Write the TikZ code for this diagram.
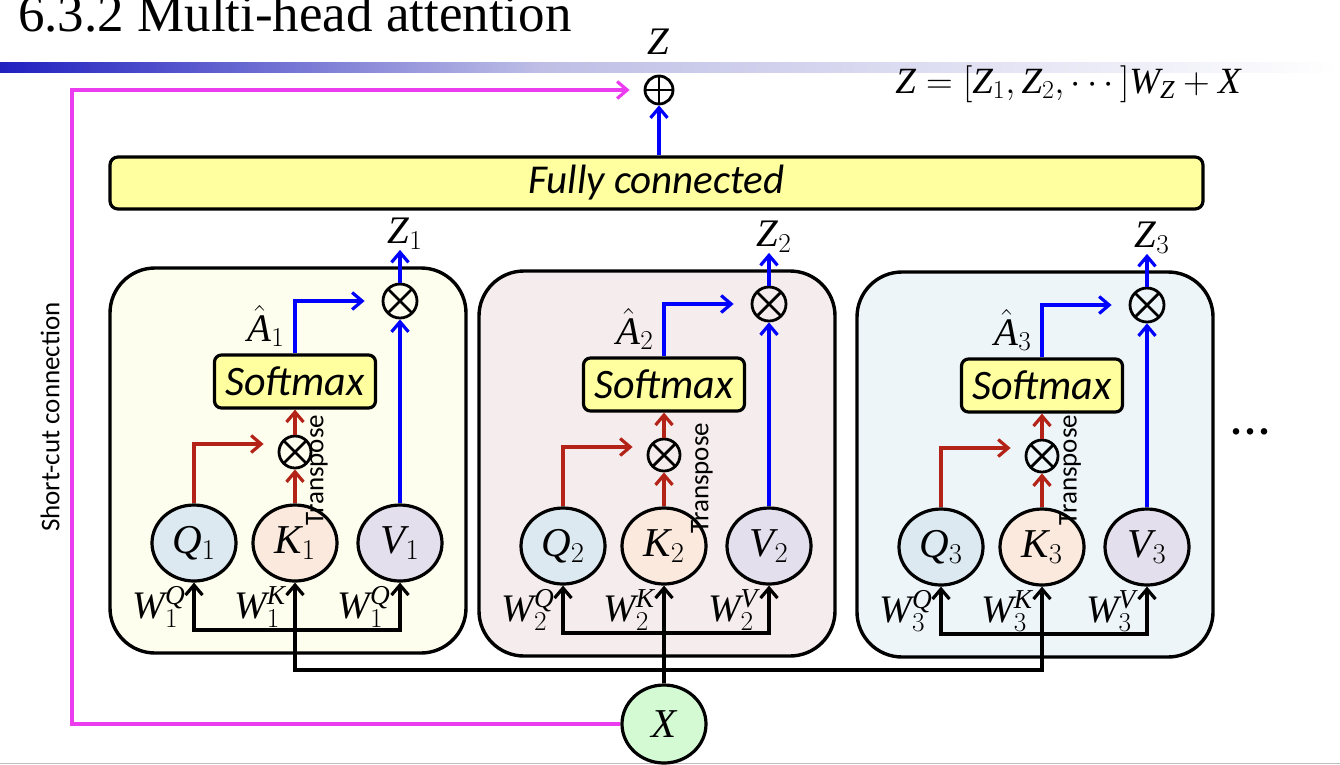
\RequirePackage{fix-cm}
\documentclass[tikz,border=0pt]{standalone}
\usepackage{fontspec}
\setmainfont{Liberation Serif}
\newfontfamily\calib{Carlito}
\usetikzlibrary{arrows.meta,shapes.geometric,calc}
\definecolor{myblue}{RGB}{0,0,255}
\definecolor{myred}{RGB}{180,35,24}
\definecolor{mymag}{RGB}{235,60,240}
\definecolor{fcyellow}{RGB}{255,255,160}
\definecolor{hb1}{RGB}{254,254,238}
\definecolor{hb2}{RGB}{245,236,237}
\definecolor{hb3}{RGB}{238,245,249}
\definecolor{qfill}{RGB}{220,233,241}
\definecolor{kfill}{RGB}{250,233,220}
\definecolor{vfill}{RGB}{228,223,236}
\definecolor{xfill}{RGB}{212,250,212}
\definecolor{barblue}{RGB}{32,32,192}
\definecolor{barmid}{RGB}{190,190,230}
\tikzset{
  tipb/.style={-{Straight Barb[length=10pt,width=17pt]}},
  blu/.style={draw=myblue, line width=3.2pt, tipb},
  redl/.style={draw=myred, line width=3.2pt, tipb},
  blk/.style={draw=black, line width=3.2pt, tipb},
  mag/.style={draw=mymag, line width=3.2pt, tipb},
  headbox/.style={draw, line width=3.4pt, rounded corners=45pt, minimum width=356pt, minimum height=385pt, inner sep=0},
  qkv/.style={ellipse, draw, line width=3.2pt, minimum width=84pt, minimum height=76pt, inner sep=0, font=\fontsize{41}{44}\selectfont},
  otimes/.style={circle, draw, line width=2.8pt, inner sep=0, path picture={\draw[line width=2.8pt] (path picture bounding box.north west) -- (path picture bounding box.south east) (path picture bounding box.north east) -- (path picture bounding box.south west);}},
  oplus/.style={circle, draw, line width=2.8pt, inner sep=0, minimum size=28pt, path picture={\draw[line width=2.8pt] (path picture bounding box.north) -- (path picture bounding box.south) (path picture bounding box.east) -- (path picture bounding box.west);}},
  smbox/.style={draw, fill=fcyellow, line width=3.2pt, rounded corners=7pt, minimum width=161pt, minimum height=53pt, inner sep=0, font=\calib\itshape\fontsize{42}{44}\selectfont},
  fcbox/.style={draw, fill=fcyellow, line width=3.2pt, rounded corners=8pt, minimum width=1093pt, minimum height=52pt, inner sep=0, font=\calib\itshape\fontsize{41}{43}\selectfont},
  zl/.style={inner sep=0, font=\fontsize{39}{42}\selectfont},
  wl/.style={inner sep=0, font=\fontsize{39}{42}\selectfont},
  tp/.style={inner sep=0, rotate=90, font=\calib\fontsize{27}{29}\selectfont},
}
\begin{document}
\begin{tikzpicture}[x=1pt,y=-1pt]
\useasboundingbox (0,0) rectangle (1340,764);
\fill[white] (0,0) rectangle (1340,764);
% title and bar
\node[anchor=base west, inner sep=0, font=\fontsize{53}{56}\selectfont] (title) at (18,31) {6.3.2 Multi-head attention};
\shade[left color=barblue, right color=barmid] (0,62) rectangle (540,72);
\shade[left color=barmid, right color=white] (540,62) rectangle (1340,72);
\draw[black!25, line width=1.2pt] (0,763.4) -- (1340,763.4);
% heads
\foreach \i/\dx/\dy/\v/\tx/\ty in {1/0/0/Q/317/470, 2/369/3/V/333/475, 3/747/4/V/323/466} {
  \begin{scope}[shift={(\dx,\dy)}]
    \node[headbox, fill=hb\i] (box\i) at (288,460.5) {};
    \node[zl] (Zl\i) at (405,234) {$\mathit{Z}_{\i}$};
    \node[otimes, minimum size=34pt] (mt\i) at (400,301) {};
    \node[smbox] (sm\i) at (295,381.5) {Softmax};
    \node[zl] (Ah\i) at (266,326) {$\hat{\mathit{A}}_{\i}$};
    \node[otimes, minimum size=32pt] (ms\i) at (295,452) {};
    \node[qkv, fill=qfill] (Q\i) at (194,543) {$\mathit{Q}_{\i}$};
    \node[qkv, fill=kfill] (K\i) at (295,543) {$\mathit{K}_{\i}$};
    \node[qkv, fill=vfill] (V\i) at (400,543) {$\mathit{V}_{\i}$};
    \node[tp] (tr\i) at (\tx,\ty) {Transpose};
    \node[wl] (wq\i) at (159,607) {$\mathit{W}_{\i}^{\mathit{Q}}$};
    \node[wl] (wk\i) at (260,607) {$\mathit{W}_{\i}^{\mathit{K}}$};
    \node[wl] (wv\i) at (364,607) {$\mathit{W}_{\i}^{\mathit{\v}}$};
    \coordinate (ib\i) at (295,630);
    \draw[blu] (V\i.north) -- (mt\i.south);
    \draw[blu] (mt\i.north) -- (Zl\i.south -| mt\i.north);
    \draw[blu, shorten >=17pt] (sm\i.north) |- (mt\i.west);
    \draw[redl] (K\i.north) -- (ms\i.south);
    \draw[redl] (ms\i.north) -- (sm\i.south);
    \draw[redl, shorten >=14pt] (Q\i.north) |- ($(ms\i.west)+(0,-8)$);
    \draw[blk] (ib\i) -| (Q\i.south);
    \draw[blk] (ib\i) -| (V\i.south);
  \end{scope}
}
% X and wiring
\node[ellipse, draw, line width=3.2pt, fill=xfill, minimum width=84pt, minimum height=78pt, inner sep=0, font=\fontsize{41}{44}\selectfont] (X) at (664,724) {$\mathit{X}$};
\coordinate (bus) at (664,670);
\draw[blk] (X.north) -- (K2.south);
\draw[blk] (bus) -| (K1.south);
\draw[blk] (bus) -| (K3.south);
% top part
\node[fcbox] (fc) at (656.5,183) {Fully connected};
\node[oplus] (plus) at (659,90) {};
\node[zl] (Ztop) at (658,42) {$\mathit{Z}$};
\draw[blu] (fc.north -| plus.south) -- (plus.south);
\coordinate (sc) at (72,90);
\draw[mag, shorten >=14pt] (X.west) -| (sc) -- (plus.west);
\node[tp] (scl) at (50,417) {Short-cut connection};
\node[anchor=base, inner sep=0, font=\bfseries\fontsize{40}{44}\selectfont] (dots) at (1250,434) {.\kern4pt.\kern4pt.};
\node[inner sep=0, font=\fontsize{37}{40}\selectfont] (eq) at (1068,84) {$\mathit{Z}=\big[\mathit{Z}_1,\mathit{Z}_2,\cdots\big]\mathit{W}_{\mathit{Z}}+\mathit{X}$};
\end{tikzpicture}
\end{document}
